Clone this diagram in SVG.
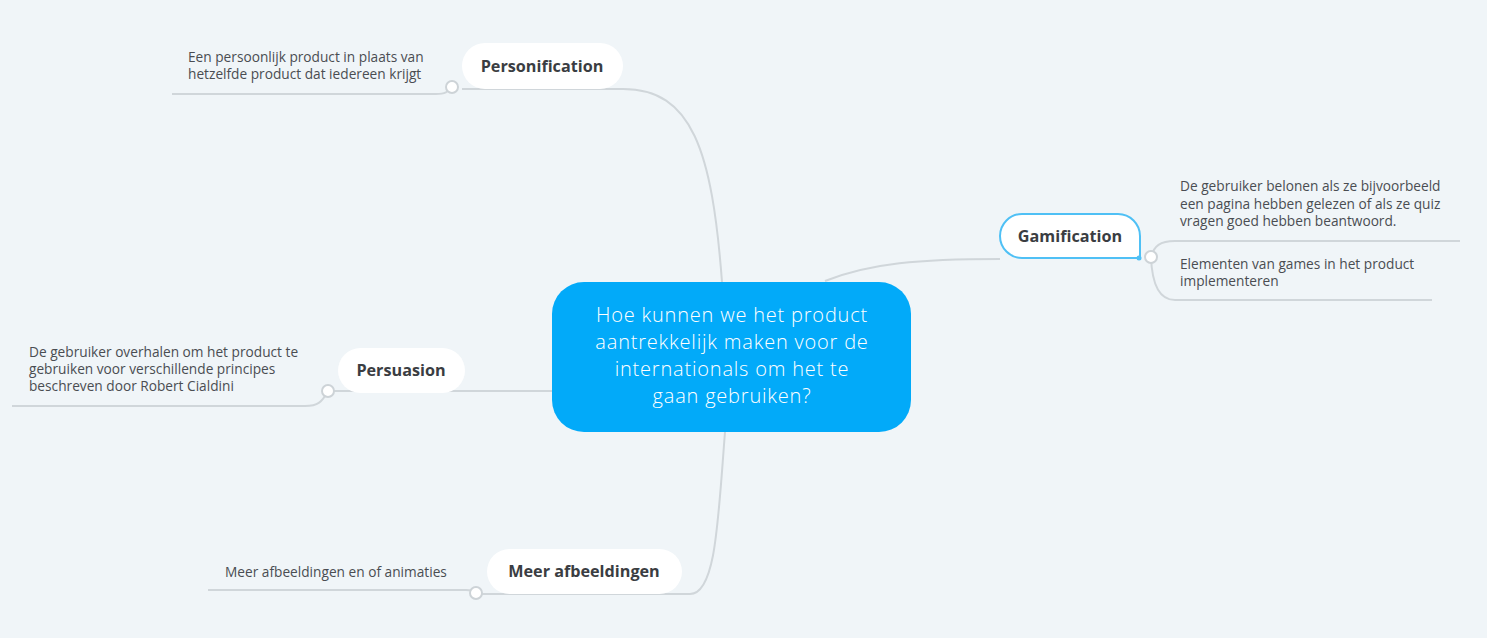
<svg xmlns="http://www.w3.org/2000/svg" width="1487" height="638" viewBox="0 0 1487 638">
<style>
.bg{fill:#f0f5f8}
.con{fill:none;stroke:#d0d6da;stroke-width:2}
.dot{fill:#ffffff;stroke:#cdd3d7;stroke-width:2}
.pill{fill:#ffffff}
.lbl{font-family:"Open Sans",Lato,sans-serif;font-weight:700;font-size:16.2px;fill:#3a3d42;text-anchor:middle}
.sub{font-family:"Open Sans",Lato,sans-serif;font-size:13.7px;fill:#4a4d52}
.ctr{font-family:"Open Sans",Lato,sans-serif;font-weight:300;font-size:20px;letter-spacing:0.8px;fill:#ffffff;text-anchor:middle}
</style>
<rect class="bg" x="0" y="0" width="1487" height="638"/>
<g id="connectors">
<path class="con" d="M722 282 C712 150 692 89 623 89 L462 89"/>
<path class="con" d="M452 87 C448 92 445 94 436 94 L172 94"/>
<path class="con" d="M552 391 L328 391"/>
<path class="con" d="M328 391 C322 402 318 406 305 406 L12 406"/>
<path class="con" d="M725 432 C718 520 716 594 690 594 L476 594"/>
<path class="con" d="M476 592 C472 590 470 590 466 590 L208 590"/>
<path class="con" d="M825 281 C870 263 920 259 1000 259"/>
<path class="con" d="M1151 257 C1154 246 1160 241 1175 241 L1460 241"/>
<path class="con" d="M1151 257 C1152 285 1160 300 1175 300 L1432 300"/>
</g>
<g id="center">
<rect x="552" y="282" width="359" height="150" rx="32" fill="#02aaf9"/>
<text class="ctr"><tspan x="732" y="321.5">Hoe kunnen we het product</tspan><tspan x="732" y="348.8">aantrekkelijk maken voor de</tspan><tspan x="732" y="376.1">internationals om het te</tspan><tspan x="732" y="403.4">gaan gebruiken?</tspan></text>
</g>
<g id="personification">
<rect class="pill" x="462" y="43" width="161" height="46" rx="23"/>
<text class="lbl" x="542" y="72">Personification</text>
<circle class="dot" cx="452" cy="87" r="6"/>
</g>
<g id="personification-note">
<text class="sub"><tspan x="188" y="62">Een persoonlijk product in plaats van</tspan><tspan x="188" y="79">hetzelfde product dat iedereen krijgt</tspan></text>
</g>
<g id="persuasion">
<rect class="pill" x="338" y="348" width="127" height="45" rx="22.5"/>
<text class="lbl" x="401" y="376">Persuasion</text>
<circle class="dot" cx="328" cy="391" r="6"/>
</g>
<g id="persuasion-note">
<text class="sub"><tspan x="29" y="357">De gebruiker overhalen om het product te</tspan><tspan x="29" y="374">gebruiken voor verschillende principes</tspan><tspan x="29" y="391">beschreven door Robert Cialdini</tspan></text>
</g>
<g id="meer-afbeeldingen">
<rect class="pill" x="487" y="549" width="195" height="45" rx="22.5"/>
<text class="lbl" x="584" y="577">Meer afbeeldingen</text>
<circle class="dot" cx="476" cy="593" r="6"/>
</g>
<g id="meer-note">
<text class="sub" x="225" y="577">Meer afbeeldingen en of animaties</text>
</g>
<g id="gamification">
<path d="M1022 214 H1118 A22 22 0 0 1 1140 236 V258 H1022 A22 22 0 0 1 1000 236 A22 22 0 0 1 1022 214 Z" fill="#ffffff" stroke="#4fc0f5" stroke-width="2"/>
<circle cx="1139" cy="258" r="2.5" fill="#4fc0f5"/>
<text class="lbl" x="1070" y="242">Gamification</text>
<circle class="dot" cx="1151" cy="257" r="6"/>
</g>
<g id="gamification-note-1">
<text class="sub"><tspan x="1180" y="191">De gebruiker belonen als ze bijvoorbeeld</tspan><tspan x="1180" y="209">een pagina hebben gelezen of als ze quiz</tspan><tspan x="1180" y="226">vragen goed hebben beantwoord.</tspan></text>
</g>
<g id="gamification-note-2">
<text class="sub"><tspan x="1180" y="269">Elementen van games in het product</tspan><tspan x="1180" y="286">implementeren</tspan></text>
</g>
</svg>
